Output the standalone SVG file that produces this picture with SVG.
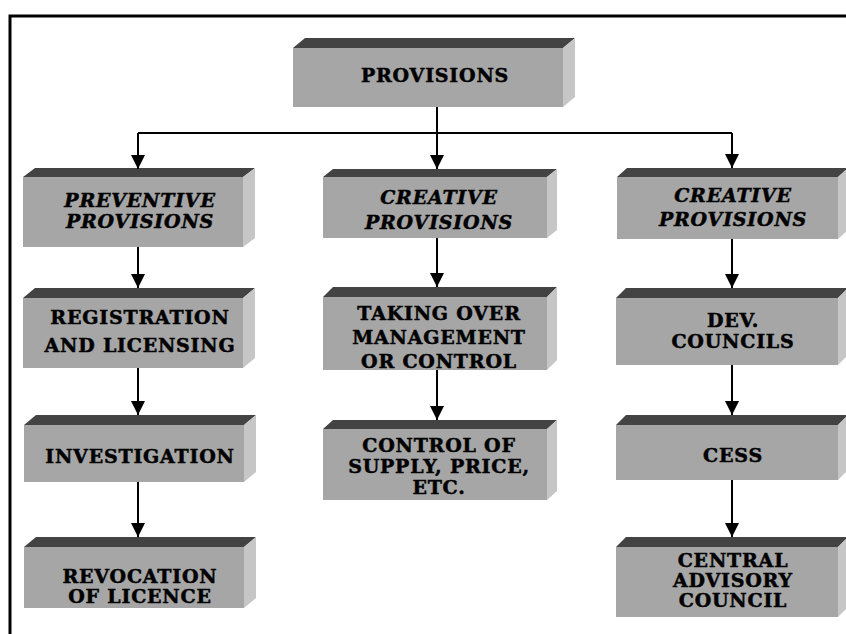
<svg xmlns="http://www.w3.org/2000/svg" width="846" height="634" viewBox="0 0 846 634">
<style>
.front{fill:#a6a6a6}
.top{fill:#434343}
.side{fill:#c6c6c6}
.t{font-family:"DejaVu Serif","Liberation Serif",serif;font-weight:bold;font-size:19px;letter-spacing:0.8px;fill:#000;stroke:#000;stroke-width:0.5;text-anchor:middle}
.i{font-style:italic}
.c{stroke:#000;stroke-width:2;fill:none}
</style>
<defs>
<marker id="ah" viewBox="0 0 14 15" refX="14" refY="7" markerWidth="14" markerHeight="15" markerUnits="userSpaceOnUse" orient="auto">
<path d="M0,0 L14,7 L0,14 Z" fill="#000"/>
</marker>
</defs>
<rect x="0" y="0" width="846" height="634" fill="#fff"/>
<path d="M10,634 V16 H846" stroke="#000" stroke-width="3" fill="none"/>

<g id="provisions">
<polygon class="top" points="293,48 305,38 575,38 563,48"/>
<polygon class="side" points="563,48 575,38 575,97 563,107"/>
<rect class="front" x="293" y="48" width="270" height="59"/>
<text class="t" x="435" y="82">PROVISIONS</text>
</g>

<g id="preventive">
<polygon class="top" points="23,177 35,168 255,168 243,177"/>
<polygon class="side" points="243,177 255,168 255,238 243,247"/>
<rect class="front" x="23" y="177" width="220" height="70"/>
<text class="t i" x="140" y="207">PREVENTIVE</text>
<text class="t i" x="140" y="228">PROVISIONS</text>
</g>

<g id="creative1">
<polygon class="top" points="323,177 333,169 557,169 547,177"/>
<polygon class="side" points="547,177 557,169 557,230 547,238"/>
<rect class="front" x="323" y="177" width="224" height="61"/>
<text class="t i" x="439" y="204">CREATIVE</text>
<text class="t i" x="439" y="229">PROVISIONS</text>
</g>

<g id="creative2">
<polygon class="top" points="617,177 627,168 848,168 838,177"/>
<polygon class="side" points="838,177 848,168 848,230 838,239"/>
<rect class="front" x="617" y="177" width="221" height="62"/>
<text class="t i" x="733" y="202">CREATIVE</text>
<text class="t i" x="733" y="226">PROVISIONS</text>
</g>

<g id="registration">
<polygon class="top" points="23,298 35,288 255,288 243,298"/>
<polygon class="side" points="243,298 255,288 255,358 243,368"/>
<rect class="front" x="23" y="298" width="220" height="70"/>
<text class="t" x="140" y="324">REGISTRATION</text>
<text class="t" x="140" y="352">AND LICENSING</text>
</g>

<g id="taking-over">
<polygon class="top" points="323,297 333,287 557,287 547,297"/>
<polygon class="side" points="547,297 557,287 557,360 547,370"/>
<rect class="front" x="323" y="297" width="224" height="73"/>
<text class="t" x="439" y="320">TAKING OVER</text>
<text class="t" x="439" y="344">MANAGEMENT</text>
<text class="t" x="439" y="368">OR CONTROL</text>
</g>

<g id="dev-councils">
<polygon class="top" points="616,298 626,288 848,288 838,298"/>
<polygon class="side" points="838,298 848,288 848,355 838,365"/>
<rect class="front" x="616" y="298" width="222" height="67"/>
<text class="t" x="733" y="327">DEV.</text>
<text class="t" x="733" y="348">COUNCILS</text>
</g>

<g id="investigation">
<polygon class="top" points="24,425 36,415 256,415 244,425"/>
<polygon class="side" points="244,425 256,415 256,472 244,482"/>
<rect class="front" x="24" y="425" width="220" height="57"/>
<text class="t" x="140" y="463">INVESTIGATION</text>
</g>

<g id="control-supply">
<polygon class="top" points="323,429 333,420 557,420 547,429"/>
<polygon class="side" points="547,429 557,420 557,491 547,500"/>
<rect class="front" x="323" y="429" width="224" height="71"/>
<text class="t" x="439" y="452">CONTROL OF</text>
<text class="t" x="439" y="473">SUPPLY, PRICE,</text>
<text class="t" x="439" y="494">ETC.</text>
</g>

<g id="cess">
<polygon class="top" points="616,425 626,415 848,415 838,425"/>
<polygon class="side" points="838,425 848,415 848,470 838,480"/>
<rect class="front" x="616" y="425" width="222" height="55"/>
<text class="t" x="733" y="462">CESS</text>
</g>

<g id="revocation">
<polygon class="top" points="24,547 36,537 256,537 244,547"/>
<polygon class="side" points="244,547 256,537 256,598 244,608"/>
<rect class="front" x="24" y="547" width="220" height="61"/>
<text class="t" x="140" y="583">REVOCATION</text>
<text class="t" x="140" y="603">OF LICENCE</text>
</g>

<g id="central-advisory">
<polygon class="top" points="616,547 626,537 848,537 838,547"/>
<polygon class="side" points="838,547 848,537 848,607 838,617"/>
<rect class="front" x="616" y="547" width="222" height="70"/>
<text class="t" x="733" y="567">CENTRAL</text>
<text class="t" x="733" y="587">ADVISORY</text>
<text class="t" x="733" y="607">COUNCIL</text>
</g>

<g id="connectors">
<path class="c" d="M437,107 V133"/>
<path class="c" d="M138,133 H732"/>
<path class="c" d="M138,133 V169" marker-end="url(#ah)"/>
<path class="c" d="M437,133 V169" marker-end="url(#ah)"/>
<path class="c" d="M732,133 V168" marker-end="url(#ah)"/>
<path class="c" d="M138,247 V288" marker-end="url(#ah)"/>
<path class="c" d="M138,368 V415" marker-end="url(#ah)"/>
<path class="c" d="M138,482 V537" marker-end="url(#ah)"/>
<path class="c" d="M437,238 V287" marker-end="url(#ah)"/>
<path class="c" d="M437,370 V420" marker-end="url(#ah)"/>
<path class="c" d="M732,239 V288" marker-end="url(#ah)"/>
<path class="c" d="M732,365 V415" marker-end="url(#ah)"/>
<path class="c" d="M732,480 V537" marker-end="url(#ah)"/>
</g>
</svg>
